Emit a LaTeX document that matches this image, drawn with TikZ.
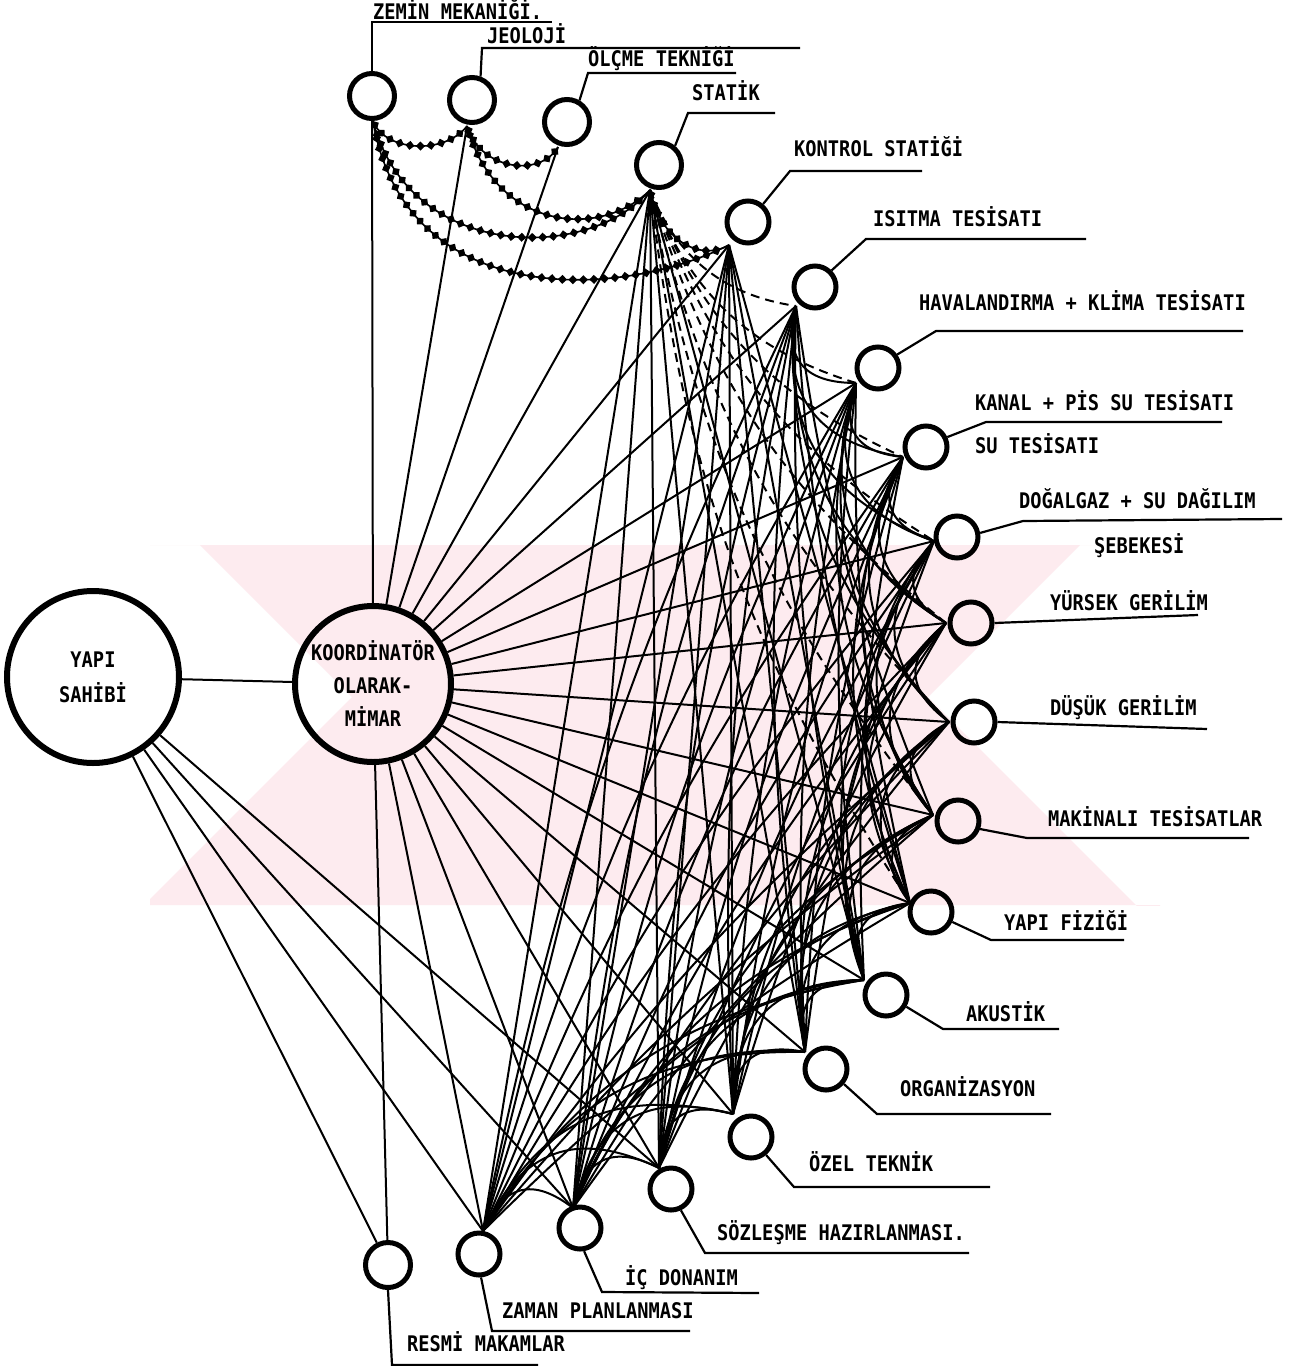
\documentclass[tikz,border=0pt]{standalone}
\usepackage{fontspec}
\newfontfamily\typ[FakeStretch=0.87]{DejaVu Sans Mono}
\usetikzlibrary{decorations.markings}
\definecolor{wmark}{RGB}{253,235,239}
\begin{document}
\begin{tikzpicture}[x=1pt,y=-1pt,
  every node/.style={font=\typ\bfseries\fontsize{21.5}{33}\selectfont},
  conn/.style={line width=2pt},
  dconn/.style={line width=2pt, dash pattern=on 9pt off 6pt},
  svc/.style={circle, draw, line width=5pt, minimum size=42pt, inner sep=0pt},
  hub/.style={circle, draw, line width=6pt, inner sep=0pt, align=center},
  leader/.style={line width=2.2pt},
  lbl/.style={anchor=base west, inner sep=0pt},
  beads/.style={line width=1.6pt, postaction={decorate},
    decoration={markings, mark=between positions 0.04 and 0.97 step 10.5pt with
      {\fill[rotate=45] (-3.2pt,-3.2pt) rectangle (3.2pt,3.2pt);}}}
]
\useasboundingbox (0,0) rectangle (1293,1366);
\fill[white] (0,0) rectangle (1293,1366);

% faint background emblem
\begin{scope}
  \clip (150,545) rectangle (1160,905);
  \fill[wmark] (150,545) -- (1160,545) -- (1160,465) -- (928,697) -- (1160,929)
     -- (1160,905) -- (150,905) -- (150,899) -- (352,697) -- (150,495) -- cycle;
\end{scope}

% main circles
\node[hub, minimum size=172pt] (yapi) at (93,677) {YAPI\\[2pt]SAHİBİ};
\node[hub, minimum size=156pt] (koord) at (373,684) {KOORDİNATÖR\\OLARAK-\\MİMAR};

% specialist circles
\node[svc, minimum size=45pt] (zem) at (372,96) {};
\node[svc, minimum size=45pt] (jeo) at (472,100) {};
\node[svc, minimum size=45pt] (olc) at (567,122) {};
\node[svc, minimum size=45pt] (sta) at (659,165) {};
\node[svc] (kon) at (748,222) {};
\node[svc] (isi) at (815,287) {};
\node[svc] (hav) at (878,368) {};
\node[svc] (kan) at (926,447) {};
\node[svc] (dog) at (957,537) {};
\node[svc] (yuk) at (971,623) {};
\node[svc] (dus) at (974,722) {};
\node[svc] (mak) at (958,821) {};
\node[svc] (yfi) at (931,912) {};
\node[svc] (aku) at (886,995) {};
\node[svc] (org) at (826,1069) {};
\node[svc] (oze) at (751,1137) {};
\node[svc] (soz) at (671,1189) {};
\node[svc] (icd) at (580,1228) {};
\node[svc] (zam) at (479,1254) {};
\node[svc, minimum size=45pt] (res) at (388,1265) {};

% meeting points of the connectors
\coordinate (zem-b) at (373,121);
\coordinate (jeo-b) at (467,126);
\coordinate (olc-b) at (558,147);
\coordinate (sta-p) at (650,190);
\coordinate (kon-p) at (729,245);
\coordinate (isi-p) at (796,306);
\coordinate (hav-p) at (856,383);
\coordinate (kan-p) at (903,457);
\coordinate (dog-p) at (934,541);
\coordinate (yuk-p) at (946,623);
\coordinate (dus-p) at (949,722);
\coordinate (mak-p) at (933,815);
\coordinate (yfi-p) at (910,903);
\coordinate (aku-p) at (864,980);
\coordinate (org-p) at (805,1052);
\coordinate (oze-p) at (733,1114);
\coordinate (soz-p) at (659,1168);
\coordinate (icd-p) at (573,1208);
\coordinate (zam-p) at (483,1231);

% owner
\draw[conn] (yapi) -- (koord);
\draw[conn] (yapi) -- (res);
\draw[conn] (yapi) -- (zam-p);
\draw[conn] (yapi) -- (icd-p);
\draw[conn] (yapi) -- (soz-p);

% coordinator to everybody
\draw[conn] (zem) -- (koord);
\draw[conn] (jeo-b) -- (koord);
\draw[conn] (olc-b) -- (koord);
\draw[conn] (res) -- (koord);
\foreach \n in {sta,kon,isi,hav,kan,dog,yuk,dus,mak,yfi,aku,org,oze,soz,icd,zam}
  \draw[conn] (\n-p) -- (koord);

% soil, geology, survey and statics
\draw[beads] (zem-b) .. controls (385,152) and (445,155) .. (jeo-b);
\draw[beads] (jeo-b) .. controls (480,170) and (540,178) .. (olc-b);
\draw[beads] (jeo-b) .. controls (495,230) and (600,240) .. (sta-p);
\draw[beads] (zem-b) .. controls (410,262) and (590,262) .. (sta-p);
\draw[beads] (zem-b) .. controls (405,310) and (620,300) .. (kon-p);
\draw[beads] (sta-p) .. controls (660,240) and (700,262) .. (kon-p);

% statics to services
\foreach \b/\t in {isi/30,hav/26,kan/22,dog/19,yuk/17,dus/15,mak/14,yfi/13}
  \draw[dconn] (sta-p) to[bend right=\t] (\b-p);
\foreach \b in {aku,org,oze,soz,icd,zam}
  \draw[conn] (sta-p) -- (\b-p);
\foreach \b in {yfi,aku,org,oze,soz,icd,zam}
  \draw[conn] (kon-p) -- (\b-p);

% neighbouring services
\foreach \a/\b in {isi/hav,hav/kan,kan/dog,dog/yuk,yuk/dus,dus/mak,mak/yfi,
  yfi/aku,aku/org,org/oze,oze/soz,soz/icd,icd/zam}
  \draw[conn] (\a-p) to[bend right=52, looseness=1.4] (\b-p);
\foreach \a/\b in {isi/kan,hav/dog,kan/yuk,dog/dus,yuk/mak,dus/yfi,mak/aku,
  yfi/org,aku/oze,org/soz,oze/icd,soz/zam}
  \draw[conn] (\a-p) to[bend right=45, looseness=1.25] (\b-p);
\foreach \a/\b in {isi/dog,hav/yuk,kan/dus,dog/mak,yuk/yfi,dus/aku,mak/org,
  yfi/oze,aku/soz,org/icd,oze/zam}
  \draw[conn] (\a-p) to[bend right=38, looseness=1.15] (\b-p);
\foreach \a/\b in {isi/yuk,hav/dus,kan/mak,dog/yfi,yuk/aku,dus/org,mak/oze,
  yfi/soz,aku/icd,org/zam}
  \draw[conn] (\a-p) to[bend right=30, looseness=1.05] (\b-p);
\foreach \a/\b in {isi/dus,hav/mak,kan/yfi,dog/aku,yuk/org,dus/oze,mak/soz,
  yfi/icd,aku/zam}
  \draw[conn] (\a-p) to[bend right=24] (\b-p);

% distant services
\foreach \a/\b in {
  isi/mak,isi/yfi,isi/aku,isi/org,isi/oze,isi/soz,isi/icd,isi/zam,
  hav/yfi,hav/aku,hav/org,hav/oze,hav/soz,hav/icd,hav/zam,
  kan/aku,kan/org,kan/oze,kan/soz,kan/icd,kan/zam,
  dog/org,dog/oze,dog/soz,dog/icd,dog/zam,
  yuk/oze,yuk/soz,yuk/icd,yuk/zam,
  dus/soz,dus/icd,dus/zam,
  mak/icd,mak/zam,
  yfi/zam}
  \draw[conn] (\a-p) to[bend right=7] (\b-p);

% label leaders
\coordinate (zem-k) at (372,22);   \coordinate (zem-e) at (552,22);
\coordinate (jeo-k) at (482,48);   \coordinate (jeo-e) at (800,48);
\coordinate (olc-k) at (588,73);   \coordinate (olc-e) at (736,73);
\coordinate (sta-k) at (688,113);  \coordinate (sta-e) at (775,113);
\coordinate (kon-k) at (790,171);  \coordinate (kon-e) at (922,171);
\coordinate (isi-k) at (866,239);  \coordinate (isi-e) at (1086,239);
\coordinate (hav-k) at (936,331);  \coordinate (hav-e) at (1243,331);
\coordinate (kan-k) at (986,422);  \coordinate (kan-e) at (1222,422);
\coordinate (dog-k) at (1023,521); \coordinate (dog-e) at (1282,519);
\coordinate (yuk-e) at (1198,615);
\coordinate (dus-e) at (1207,729);
\coordinate (mak-k) at (1027,838); \coordinate (mak-e) at (1249,838);
\coordinate (yfi-k) at (991,940);  \coordinate (yfi-e) at (1124,940);
\coordinate (aku-k) at (943,1029); \coordinate (aku-e) at (1059,1029);
\coordinate (org-k) at (877,1114); \coordinate (org-e) at (1051,1114);
\coordinate (oze-k) at (794,1187); \coordinate (oze-e) at (990,1187);
\coordinate (soz-k) at (705,1253); \coordinate (soz-e) at (969,1253);
\coordinate (icd-k) at (602,1292); \coordinate (icd-e) at (759,1293);
\coordinate (zam-k) at (492,1331); \coordinate (zam-e) at (690,1331);
\coordinate (res-k) at (392,1365); \coordinate (res-e) at (538,1365);

\draw[leader] (zem.north) -- (zem-k) -- (zem-e);
\draw[leader] (jeo.70) -- (jeo-k) -- (jeo-e);
\draw[leader] (olc.60) -- (olc-k) -- (olc-e);
\draw[leader] (sta.50) -- (sta-k) -- (sta-e);
\draw[leader] (kon.50) -- (kon-k) -- (kon-e);
\draw[leader] (isi.45) -- (isi-k) -- (isi-e);
\draw[leader] (hav.35) -- (hav-k) -- (hav-e);
\draw[leader] (kan.25) -- (kan-k) -- (kan-e);
\draw[leader] (dog.10) -- (dog-k) -- (dog-e);
\draw[leader] (yuk.east) -- (yuk-e);
\draw[leader] (dus.east) -- (dus-e);
\draw[leader] (mak.-20) -- (mak-k) -- (mak-e);
\draw[leader] (yfi.-25) -- (yfi-k) -- (yfi-e);
\draw[leader] (aku.-30) -- (aku-k) -- (aku-e);
\draw[leader] (org.-40) -- (org-k) -- (org-e);
\draw[leader] (oze.-50) -- (oze-k) -- (oze-e);
\draw[leader] (soz.-65) -- (soz-k) -- (soz-e);
\draw[leader] (icd.-80) -- (icd-k) -- (icd-e);
\draw[leader] (zam.-85) -- (zam-k) -- (zam-e);
\draw[leader] (res.south) -- (res-k) -- (res-e);

% labels
\node[lbl] (t-zem) at (373,19) {ZEMİN MEKANİĞİ.};
\node[lbl] (t-jeo) at (487,43) {JEOLOJİ};
\node[lbl] (t-olc) at (588,66) {ÖLÇME TEKNİĞİ};
\node[lbl] (t-sta) at (692,100) {STATİK};
\node[lbl] (t-kon) at (794,156) {KONTROL STATİĞİ};
\node[lbl] (t-isi) at (873,226) {ISITMA TESİSATI};
\node[lbl] (t-hav) at (919,310) {HAVALANDIRMA + KLİMA TESİSATI};
\node[lbl] (t-kan) at (975,410) {KANAL + PİS SU TESİSATI};
\node[lbl] (t-su)  at (975,453) {SU TESİSATI};
\node[lbl] (t-dog) at (1019,508) {DOĞALGAZ + SU DAĞILIM};
\node[lbl] (t-seb) at (1094,553) {ŞEBEKESİ};
\node[lbl] (t-yuk) at (1050,610) {YÜRSEK GERİLİM};
\node[lbl] (t-dus) at (1050,715) {DÜŞÜK GERİLİM};
\node[lbl] (t-mak) at (1048,826) {MAKİNALI TESİSATLAR};
\node[lbl] (t-yfi) at (1004,930) {YAPI FİZİĞİ};
\node[lbl] (t-aku) at (966,1021) {AKUSTİK};
\node[lbl] (t-org) at (900,1096) {ORGANİZASYON};
\node[lbl] (t-oze) at (809,1171) {ÖZEL TEKNİK};
\node[lbl] (t-soz) at (717,1240) {SÖZLEŞME HAZIRLANMASI.};
\node[lbl] (t-icd) at (625,1285) {İÇ DONANIM};
\node[lbl] (t-zam) at (502,1318) {ZAMAN PLANLANMASI};
\node[lbl] (t-res) at (407,1351) {RESMİ MAKAMLAR};
\end{tikzpicture}
\end{document}
